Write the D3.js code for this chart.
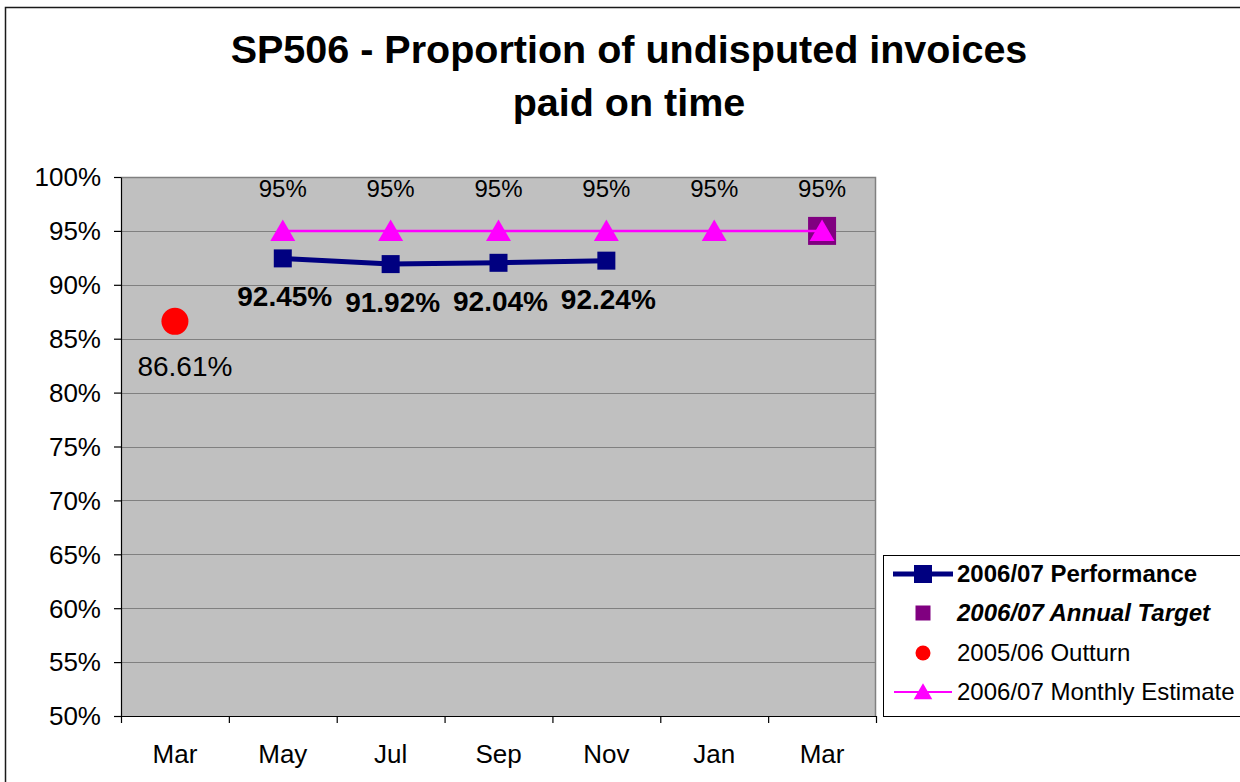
<!DOCTYPE html>
<html>
<head>
<meta charset="utf-8">
<script src="https://cdn.jsdelivr.net/npm/d3@7"></script>
<style>
  html, body { margin: 0; padding: 0; background: #fff; }
  svg { display: block; font-family: "Liberation Sans", Arial, sans-serif; }
</style>
</head>
<body>
<svg id="chart" width="1240" height="782"></svg>
<script>
// Month categories along the x axis (March 2006 through March 2007)
const categories = ["Mar", "May", "Jul", "Sep", "Nov", "Jan", "Mar"];

// Series values, one per category (null = no point)
const performance = [null, 0.9245, 0.9192, 0.9204, 0.9224, null, null];
const annualTarget = [null, null, null, null, null, null, 0.95];
const outturn = [0.8661, null, null, null, null, null, null];
const monthlyEstimate = [null, 0.95, 0.95, 0.95, 0.95, 0.95, 0.95];

// Y axis tick values
const yTicks = [0.5, 0.55, 0.6, 0.65, 0.7, 0.75, 0.8, 0.85, 0.9, 0.95, 1.0];

const titleLines = ["SP506 - Proportion of undisputed invoices", "paid on time"];
const legendItems = [
  { key: "perf", label: "2006/07 Performance", weight: "bold", style: "normal" },
  { key: "target", label: "2006/07 Annual Target", weight: "bold", style: "italic" },
  { key: "outturn", label: "2005/06 Outturn", weight: "normal", style: "normal" },
  { key: "estimate", label: "2006/07 Monthly Estimate", weight: "normal", style: "normal" }
];

const colors = {
  perf: "#000080",
  target: "#800080",
  outturn: "#FF0000",
  estimate: "#FF00FF",
  plotBg: "#C0C0C0",
  grid: "#808080"
};

const svg = d3.select("#chart");
const plot = { left: 121, top: 177, right: 876, bottom: 716 };

// Outer chart frame
svg.append("rect")
  .attr("x", 5.5).attr("y", 7.5)
  .attr("width", 1260).attr("height", 800)
  .attr("fill", "#fff").attr("stroke", "#1a1a1a").attr("stroke-width", 1.5);

// Title
svg.append("g").selectAll("text").data(titleLines).join("text")
  .attr("x", 629).attr("y", (d, i) => 63 + i * 53)
  .attr("text-anchor", "middle")
  .attr("font-size", 39.5).attr("font-weight", "bold")
  .text(d => d);

// Scales
const x = d3.scaleBand().domain(d3.range(categories.length)).range([plot.left, plot.right]);
const xEdges = d3.scaleLinear().domain([0, categories.length]).range([plot.left, plot.right]);
const y = d3.scaleLinear().domain([0.5, 1.0]).range([plot.bottom, plot.top]);
const cx = i => x(i) + x.bandwidth() / 2;

// Plot background
svg.append("rect")
  .attr("x", plot.left).attr("y", plot.top)
  .attr("width", plot.right - plot.left).attr("height", plot.bottom - plot.top)
  .attr("fill", colors.plotBg);

// Horizontal gridlines
svg.append("g").selectAll("line").data(yTicks.filter(t => t > 0.5 && t < 1.0)).join("line")
  .attr("x1", plot.left).attr("x2", plot.right)
  .attr("y1", d => Math.round(y(d)) + 0.5).attr("y2", d => Math.round(y(d)) + 0.5)
  .attr("stroke", colors.grid).attr("stroke-width", 1);

// Plot border (top and right)
svg.append("path")
  .attr("d", `M${plot.left},${plot.top + 0.5}H${plot.right - 0.5}V${plot.bottom}`)
  .attr("fill", "none").attr("stroke", colors.grid).attr("stroke-width", 1.5);

// Y axis
const yAxis = svg.append("g")
  .attr("transform", `translate(${plot.left},0)`)
  .call(d3.axisLeft(y).tickValues(yTicks).tickSize(7).tickSizeOuter(0).tickPadding(13)
    .tickFormat(d3.format(".0%")));
yAxis.selectAll("text").attr("font-size", 26).attr("fill", "#000")
  .attr("font-family", "'Liberation Sans', Arial, sans-serif").attr("dy", "0.34em");
yAxis.selectAll("line, path").attr("stroke", "#000").attr("stroke-width", 1.2);

// X axis: tick marks on category boundaries
const xTickAxis = svg.append("g")
  .attr("transform", `translate(0,${plot.bottom})`)
  .call(d3.axisBottom(xEdges).tickValues(d3.range(categories.length + 1))
    .tickSize(7).tickSizeOuter(0).tickFormat(""));
xTickAxis.selectAll("line, path").attr("stroke", "#000").attr("stroke-width", 1.2);

// X axis: category labels centred in each band
const xLabelAxis = svg.append("g")
  .attr("transform", `translate(0,${plot.bottom})`)
  .call(d3.axisBottom(x).tickSize(0).tickPadding(29).tickFormat(i => categories[i]));
xLabelAxis.select(".domain").remove();
xLabelAxis.selectAll("text").attr("font-size", 26).attr("fill", "#000")
  .attr("font-family", "'Liberation Sans', Arial, sans-serif");

const pts = arr => arr.map((v, i) => ({ i, v })).filter(d => d.v !== null);

// Annual target marker
svg.append("g").selectAll("rect").data(pts(annualTarget)).join("rect")
  .attr("x", d => cx(d.i) - 14).attr("y", d => y(d.v) - 14)
  .attr("width", 28).attr("height", 28)
  .attr("fill", colors.target);

// 2005/06 outturn marker
svg.append("g").selectAll("circle").data(pts(outturn)).join("circle")
  .attr("cx", d => cx(d.i)).attr("cy", d => y(d.v)).attr("r", 13.5)
  .attr("fill", colors.outturn);
svg.append("g").selectAll("text").data(pts(outturn)).join("text")
  .attr("x", d => cx(d.i) + 10).attr("y", d => y(d.v) + 55)
  .attr("text-anchor", "middle").attr("font-size", 28)
  .text(d => d3.format(".2%")(d.v));

// 2006/07 performance line
const perfPts = pts(performance);
svg.append("path").datum(perfPts)
  .attr("d", d3.line().x(d => cx(d.i)).y(d => y(d.v)))
  .attr("fill", "none").attr("stroke", colors.perf).attr("stroke-width", 5);
svg.append("g").selectAll("rect").data(perfPts).join("rect")
  .attr("x", d => cx(d.i) - 9).attr("y", d => y(d.v) - 9)
  .attr("width", 18).attr("height", 18)
  .attr("fill", colors.perf);
svg.append("g").selectAll("text").data(perfPts).join("text")
  .attr("x", d => cx(d.i) + 2).attr("y", d => y(d.v) + 48)
  .attr("text-anchor", "middle").attr("font-size", 28).attr("font-weight", "bold")
  .text(d => d3.format(".2%")(d.v));

// 2006/07 monthly estimate line
const estPts = pts(monthlyEstimate);
const tri = d3.symbol().type(d3.symbolTriangle).size(270);
svg.append("path").datum(estPts)
  .attr("d", d3.line().x(d => cx(d.i)).y(d => y(d.v)))
  .attr("fill", "none").attr("stroke", colors.estimate).attr("stroke-width", 2.5);
svg.append("g").selectAll("path").data(estPts).join("path")
  .attr("transform", d => `translate(${cx(d.i)},${y(d.v) + 3})`)
  .attr("d", tri).attr("fill", colors.estimate);
svg.append("g").selectAll("text").data(estPts).join("text")
  .attr("x", d => cx(d.i)).attr("y", d => y(d.v) - 34)
  .attr("text-anchor", "middle").attr("font-size", 24)
  .text(d => d3.format(".0%")(d.v));

// Legend
const legend = svg.append("g");
legend.append("rect")
  .attr("x", 883.5).attr("y", 555.5).attr("width", 400).attr("height", 161)
  .attr("fill", "#fff").attr("stroke", "#000").attr("stroke-width", 1);
const rowY = [574, 613, 653, 692];
const symX = 923;
legendItems.forEach((item, k) => {
  const ry = rowY[k];
  if (item.key === "perf") {
    legend.append("line").attr("x1", 893).attr("x2", 953).attr("y1", ry).attr("y2", ry)
      .attr("stroke", colors.perf).attr("stroke-width", 5);
    legend.append("rect").attr("x", symX - 9).attr("y", ry - 9).attr("width", 18).attr("height", 18)
      .attr("fill", colors.perf);
  } else if (item.key === "target") {
    legend.append("rect").attr("x", symX - 7.5).attr("y", ry - 7.5).attr("width", 15).attr("height", 15)
      .attr("fill", colors.target);
  } else if (item.key === "outturn") {
    legend.append("circle").attr("cx", symX).attr("cy", ry).attr("r", 7.5).attr("fill", colors.outturn);
  } else {
    legend.append("line").attr("x1", 894).attr("x2", 952).attr("y1", ry).attr("y2", ry)
      .attr("stroke", colors.estimate).attr("stroke-width", 2);
    legend.append("path").attr("transform", `translate(${symX},${ry + 2})`)
      .attr("d", d3.symbol().type(d3.symbolTriangle).size(150)).attr("fill", colors.estimate);
  }
  legend.append("text")
    .attr("x", 957).attr("y", ry + 8)
    .attr("font-size", 24).attr("font-weight", item.weight).attr("font-style", item.style)
    .text(item.label);
});
</script>
</body>
</html>
